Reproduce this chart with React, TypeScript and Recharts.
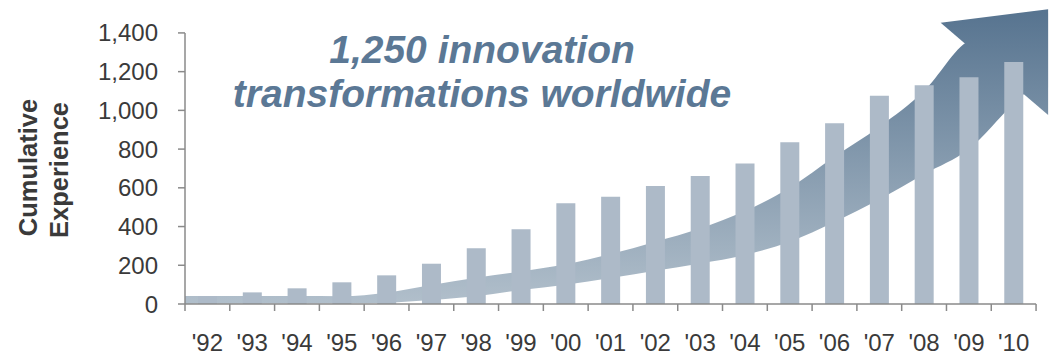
import React from 'react';
import { ComposedChart, Bar, Area, XAxis, YAxis, ReferenceLine, Customized } from 'recharts';

// ---- data ----
const years = ["'92", "'93", "'94", "'95", "'96", "'97", "'98", "'99", "'00", "'01", "'02", "'03", "'04", "'05", "'06", "'07", "'08", "'09", "'10"];
const cumulative = [40, 60, 81, 112, 148, 208, 288, 386, 520, 554, 610, 661, 725, 835, 933, 1076, 1130, 1171, 1250];
const yTicks = [0, 200, 400, 600, 800, 1000, 1200, 1400];

// arrow band (x in category units, values in axis units)
const arrowX = [0, 0.5, 1.5, 2.5, 3.5, 4.5, 5.5, 6.5, 7.5, 8.5, 9.5, 10.5, 11.5, 12.5, 13.5, 14.5, 15.5, 16.5, 17.5, 18.5, 18.75];
const arrowLow = [0, 1, 3, 3, 4, 7, 21, 40, 72, 100, 134, 172, 209, 253, 322, 424, 540, 670, 800, 1035, 1089];
const arrowHigh = [41, 41, 41, 41, 40, 58, 98, 135, 168, 205, 258, 322, 390, 480, 600, 760, 915, 1100, 1360, 1420, 1440];
// arrow head
const headX = [16.87, 19.27];
const headLow = [1453, 976];
const headHigh = [1453, 1522];

const titleLines = ['1,250 innovation', 'transformations worldwide'];
const yLabelLines = ['Cumulative', 'Experience'];

// ---- derived ----
const barData = years.map((label, i) => ({ x: i + 0.5, label, value: cumulative[i] }));
const bandData = arrowX.map((x, i) => ({ x, range: [arrowLow[i], arrowHigh[i]] }));
const headData = headX.map((x, i) => ({ x, range: [headLow[i], headHigh[i]] }));
const boundaryTicks = years.map((_, i) => i).concat([years.length]);
const labelTicks = years.map((_, i) => i + 0.5);

const FONT = '"Liberation Sans", Arial, Helvetica, sans-serif';
const AXIS = '#8a8a8a';
const TEXT = '#3a3a3a';
const X_MAX = 19.3;
const Y_MAX = 1570;

const Overlay = () => (
  <g fontFamily={FONT}>
    <text x={482} y={63} textAnchor="middle" fontSize={39} fontWeight="bold" fontStyle="italic" fill="#5b7895">
      {titleLines[0]}
    </text>
    <text x={482} y={107} textAnchor="middle" fontSize={39} fontWeight="bold" fontStyle="italic" fill="#5b7895">
      {titleLines[1]}
    </text>
    <text x={37} y={167.5} transform="rotate(-90, 37, 167.5)" textAnchor="middle" fontSize={25.5} fontWeight="bold" fill={TEXT}>
      {yLabelLines[0]}
    </text>
    <text x={68} y={170} transform="rotate(-90, 68, 170)" textAnchor="middle" fontSize={25.5} fontWeight="bold" fill={TEXT}>
      {yLabelLines[1]}
    </text>
  </g>
);

export default function App() {
  return (
    <div style={{ position: 'absolute', left: 0, top: 0, width: 1050, height: 355, background: '#fff' }}>
      <ComposedChart width={1050} height={355} data={barData} margin={{ top: 0, right: 0.5, bottom: 0, left: 0 }}>
        <defs>
          <linearGradient id="arrowGrad" gradientUnits="userSpaceOnUse" x1={0} y1={304} x2={0} y2={8}>
            <stop offset="0" stopColor="#b1bfcb" />
            <stop offset="1" stopColor="#56738f" />
          </linearGradient>
        </defs>
        <XAxis
          xAxisId="b"
          dataKey="x"
          type="number"
          domain={[0, X_MAX]}
          ticks={labelTicks}
          interval={0}
          tickFormatter={(v: number) => years[Math.floor(v)]}
          tick={{ fontSize: 24, fill: TEXT, fontFamily: FONT }}
          tickLine={false}
          axisLine={false}
          tickSize={7}
          tickMargin={22}
          height={50}
          allowDataOverflow
        />
        <XAxis
          xAxisId="a"
          dataKey="x"
          type="number"
          domain={[0, X_MAX]}
          ticks={boundaryTicks}
          interval={0}
          tickFormatter={() => ''}
          tickLine={{ stroke: AXIS, strokeWidth: 1.5 }}
          tickSize={7}
          axisLine={false}
          height={1}
          allowDataOverflow
        />
        <YAxis
          type="number"
          domain={[0, Y_MAX]}
          ticks={yTicks}
          interval={0}
          width={185}
          tickFormatter={(v: number) => v.toLocaleString('en-US')}
          tick={{ fontSize: 24, fill: TEXT, fontFamily: FONT }}
          tickLine={{ stroke: AXIS, strokeWidth: 1.5 }}
          tickSize={7}
          tickMargin={20}
          axisLine={false}
          allowDataOverflow
        />
        <Area
          xAxisId="a"
          data={bandData}
          dataKey="range"
          type="monotone"
          stroke="none"
          fill="url(#arrowGrad)"
          fillOpacity={1}
          dot={false}
          activeDot={false}
          isAnimationActive={false}
        />
        <Area
          xAxisId="a"
          data={headData}
          dataKey="range"
          type="linear"
          stroke="none"
          fill="url(#arrowGrad)"
          fillOpacity={1}
          dot={false}
          activeDot={false}
          isAnimationActive={false}
        />
        <Bar xAxisId="b" dataKey="value" fill="#adbac8" barSize={19} isAnimationActive={false} />
        <ReferenceLine
          xAxisId="b"
          segment={[{ x: 0, y: 0 }, { x: 0, y: 1400 }]}
          stroke={AXIS}
          strokeWidth={1.5}
        />
        <ReferenceLine
          xAxisId="b"
          segment={[{ x: 0, y: 0 }, { x: years.length, y: 0 }]}
          stroke={AXIS}
          strokeWidth={1.5}
        />
        <Customized component={Overlay} />
      </ComposedChart>
    </div>
  );
}
